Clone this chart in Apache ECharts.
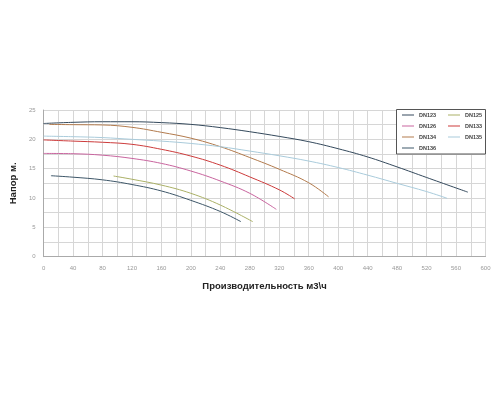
<!DOCTYPE html>
<html>
<head>
<meta charset="utf-8">
<script src="https://cdn.jsdelivr.net/npm/echarts@6/dist/echarts.min.js"></script>
<style>
html,body{margin:0;padding:0;background:#fff;}
#c{width:500px;height:400px;}
</style>
</head>
<body>
<div id="c"></div>
<script>
const seriesNames = ['DN123','DN125','DN126','DN133','DN134','DN135','DN136'];
const colors = ['#34495c','#aab066','#c8649e','#cc3b3b','#b27a4c','#a9cbdb','#3d5668'];
const dn123 = [[0,22.7],[40,22.9],[80,23.0],[120,23.0],[160,22.85],[200,22.55],[240,22.0],[280,21.3],[320,20.5],[360,19.6],[400,18.4],[440,17.0],[480,15.3],[520,13.5],[576,11.0]];
const dn125 = [[95,13.75],[120,13.2],[160,12.2],[200,10.8],[240,8.8],[284,5.97]];
const dn126 = [[0,17.6],[40,17.55],[80,17.3],[120,16.75],[160,15.9],[200,14.6],[240,12.9],[280,10.8],[316,8.07]];
const dn133 = [[0,19.9],[40,19.7],[80,19.5],[120,19.15],[160,18.3],[200,17.15],[240,15.6],[280,13.6],[320,11.4],[341,9.85]];
const dn134 = [[8,22.55],[40,22.5],[80,22.45],[120,22.05],[160,21.2],[200,20.2],[240,18.75],[280,16.9],[320,14.9],[360,12.6],[387,10.2]];
const dn135 = [[0,20.55],[40,20.45],[80,20.3],[120,20.0],[160,19.7],[200,19.3],[240,18.75],[280,18.0],[320,17.2],[360,16.3],[400,15.2],[440,13.9],[480,12.5],[520,11.1],[548,9.95]];
const dn136 = [[10,13.8],[40,13.55],[80,13.1],[120,12.3],[160,11.2],[200,9.6],[240,7.7],[268,5.97]];
const seriesData = [dn123, dn125, dn126, dn133, dn134, dn135, dn136];
const xTitle = 'Производительность м3\\ч';
const yTitle = 'Напор м.';

const font = 'Liberation Sans, Arial, sans-serif';
const gridColor = '#d6d6d6';
const chart = echarts.init(document.getElementById('c'));
const legendText = {fontSize: 5.5, fontWeight: 'bold', color: '#444', fontFamily: font};
const legendBase = {orient: 'vertical', top: 112, padding: 0, icon: 'rect', itemWidth: 12, itemHeight: 1,
  itemGap: 5, z: 10, textStyle: legendText};
chart.setOption({
  animation: false,
  color: colors,
  grid: {left: 40.7, right: 14.5, top: 110, bottom: 143.3},
  xAxis: {
    type: 'value', min: 0, max: 600, interval: 40,
    name: xTitle, nameLocation: 'middle', nameGap: 25,
    nameTextStyle: {fontSize: 9.5, fontWeight: 'bold', color: '#222', fontFamily: font},
    axisLine: {show: true, lineStyle: {color: '#aaa', width: 1}},
    axisTick: {show: false},
    axisLabel: {fontSize: 6, color: '#999', margin: 9, fontFamily: font},
    splitLine: {show: true, lineStyle: {color: gridColor, width: 1}},
    minorTick: {show: false, splitNumber: 2},
    minorSplitLine: {show: true, lineStyle: {color: gridColor, width: 1}}
  },
  yAxis: {
    type: 'value', min: 0, max: 25, interval: 5,
    name: yTitle, nameLocation: 'middle', nameGap: 19, nameRotate: 90,
    nameTextStyle: {fontSize: 9.5, fontWeight: 'bold', color: '#222', fontFamily: font},
    axisLine: {show: true, lineStyle: {color: '#aaa', width: 1}},
    axisTick: {show: false},
    axisLabel: {fontSize: 6, color: '#999', margin: 8, fontFamily: font},
    splitLine: {show: true, lineStyle: {color: gridColor, width: 1}},
    minorTick: {show: false, splitNumber: 2},
    minorSplitLine: {show: true, lineStyle: {color: gridColor, width: 1}}
  },
  graphic: [{
    type: 'rect', z: 5,
    shape: {x: 396.5, y: 109.5, width: 89, height: 44.5},
    style: {fill: '#fff', stroke: '#555', lineWidth: 1}
  }],
  legend: [
    Object.assign({left: 402, data: ['DN123','DN126','DN134','DN136']}, legendBase),
    Object.assign({left: 448, data: ['DN125','DN133','DN135']}, legendBase)
  ],
  series: seriesNames.map((n, i) => ({
    name: n, type: 'line', data: seriesData[i], smooth: 0.4, symbol: 'none',
    lineStyle: {width: 1, color: colors[i]}, itemStyle: {color: colors[i]}
  }))
});
</script>
</body>
</html>
